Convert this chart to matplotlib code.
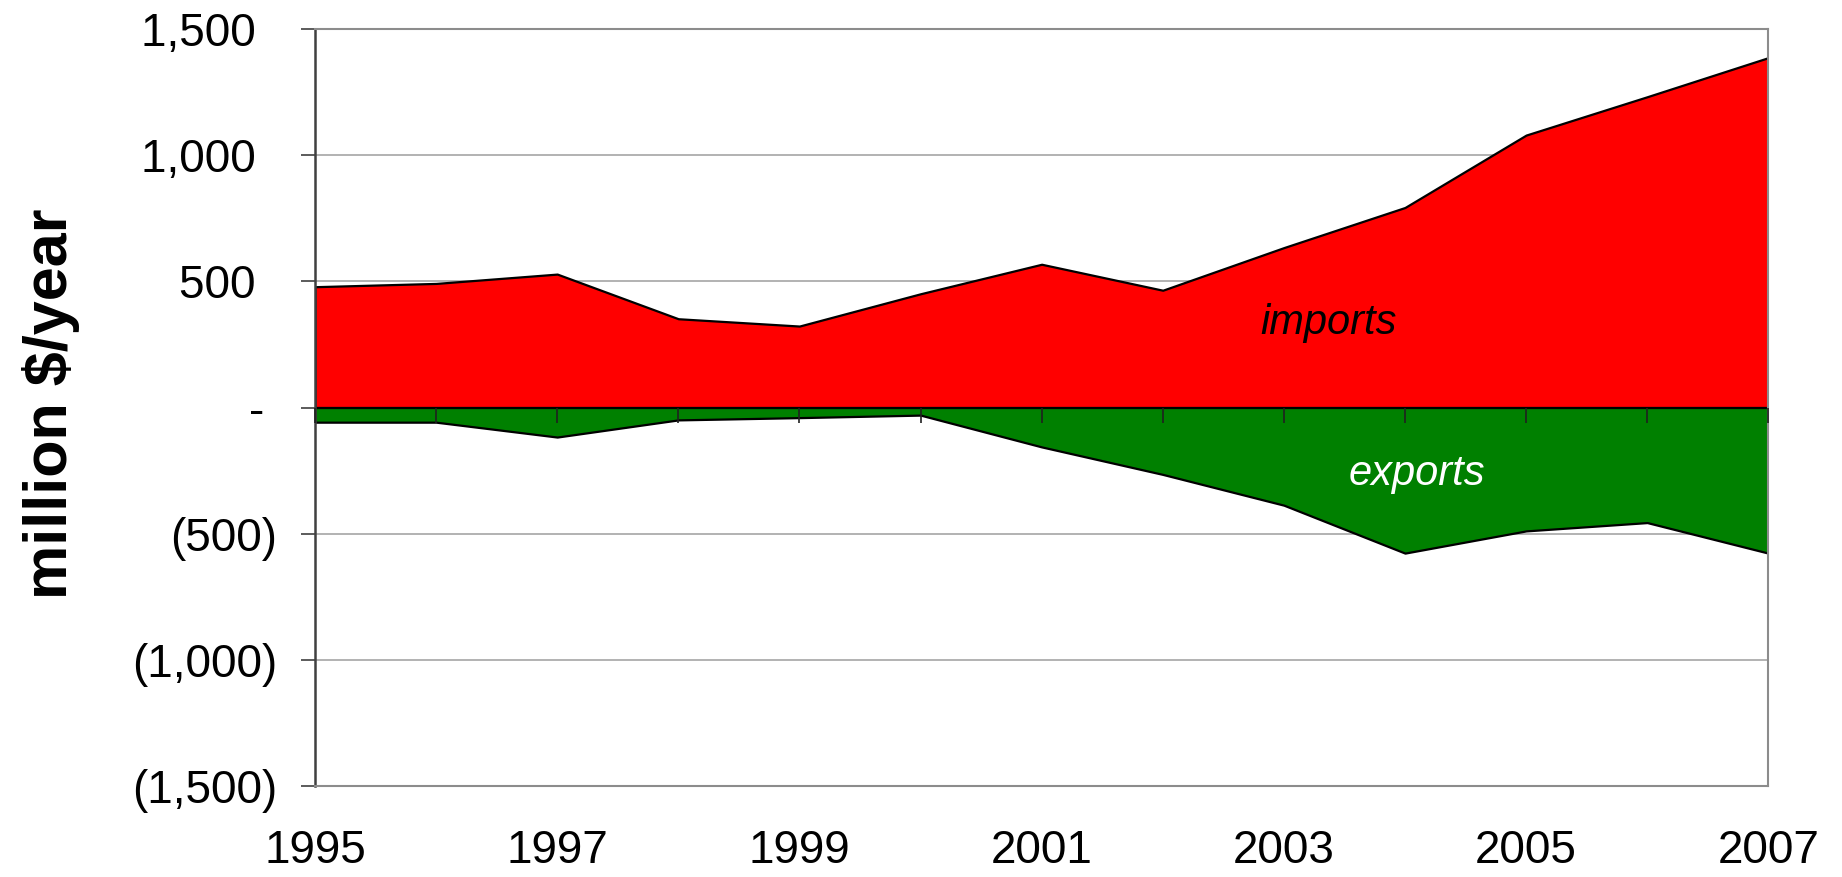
import matplotlib
matplotlib.use('Agg')
import matplotlib.pyplot as plt
from matplotlib.ticker import FixedLocator, FuncFormatter

# Trade balance, million $/year
years = [1995, 1996, 1997, 1998, 1999, 2000, 2001, 2002, 2003, 2004, 2005, 2006, 2007]
imports = [479, 492, 529, 352, 323, 451, 568, 465, 634, 793, 1080, 1232, 1387]
exports = [-58, -58, -117, -49, -40, -30, -156, -265, -387, -577, -489, -456, -577]

y_ticks = [-1500, -1000, -500, 0, 500, 1000, 1500]
x_label_years = [1995, 1997, 1999, 2001, 2003, 2005, 2007]

plt.rcParams['font.family'] = ['Liberation Sans', 'DejaVu Sans']


def accounting(v, pos=None):
    # Excel style "#,##0_);(#,##0)" with a dash for zero
    if v == 0:
        return '- '
    if v < 0:
        return f'({abs(v):,.0f})'
    return f'{v:,.0f} \u2009'


fig = plt.figure(figsize=(18.42, 8.77), dpi=100)
fig.patch.set_facecolor('white')
ax = fig.add_axes([0.171, 0.1038, 0.789, 0.863])

ax.fill_between(years, 0, imports, facecolor='#ff0000', edgecolor='black',
                linewidth=1.6, zorder=2)
ax.fill_between(years, 0, exports, facecolor='#008000', edgecolor='black',
                linewidth=1.6, zorder=2)

ax.set_xlim(years[0], years[-1])
ax.set_ylim(y_ticks[0], y_ticks[-1])

ax.yaxis.set_major_locator(FixedLocator(y_ticks))
ax.yaxis.set_major_formatter(FuncFormatter(accounting))
ax.grid(axis='y', color='#a6a6a6', linewidth=1.2, zorder=0)
ax.set_axisbelow(True)

ax.set_xticks(x_label_years)
ax.set_xticklabels([str(y) for y in x_label_years])
ax.tick_params(axis='x', length=0, pad=31, labelsize=33)
ax.tick_params(axis='y', direction='out', length=10, width=1.2,
               color='#404040', pad=17, labelsize=33)

for side in ['top', 'right', 'bottom']:
    ax.spines[side].set_color('#8c8c8c')
    ax.spines[side].set_linewidth(1.5)
ax.spines['left'].set_color('#404040')
ax.spines['left'].set_linewidth(1.8)

# category axis crossing at zero: one tick per year, hanging below the line
sec = ax.secondary_xaxis(0.5)
sec.set_zorder(5)
sec.set_xticks(years)
sec.xaxis.set_ticks_position('bottom')
sec.tick_params(axis='x', which='both', direction='out', length=11, width=1.2,
                color='#202020', labelbottom=False, labeltop=False,
                bottom=True, top=False)
sec.spines['bottom'].set_visible(False)
sec.spines['top'].set_visible(False)

ax.set_ylabel('million $/year', fontsize=44, fontweight='bold')
ax.yaxis.set_label_coords(-0.1616, 0.505)

ax.text(2003.37, 337, 'imports', fontsize=30, style='italic', color='black',
        ha='center', va='center', zorder=3)
ax.text(2004.1, -262, 'exports', fontsize=30, style='italic', color='white',
        ha='center', va='center', zorder=3)

fig.savefig('out.png', dpi=100, facecolor='white')
plt.close(fig)
